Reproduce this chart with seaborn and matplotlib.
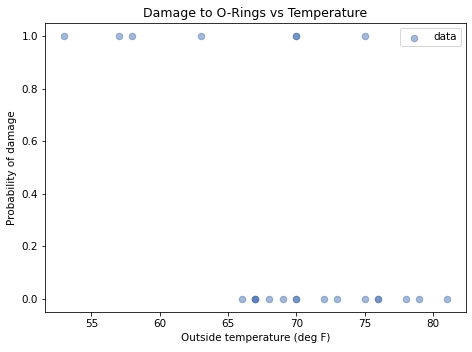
import numpy as np
import pandas as pd
import seaborn as sns
import matplotlib
matplotlib.use("Agg")
import matplotlib.pyplot as plt

# Challenger flights: outside temperature and O-ring damage (0/1)
temps = [66, 70, 69, 68, 67, 72, 73, 70, 57, 63, 70, 78,
         67, 53, 67, 75, 70, 81, 76, 79, 75, 76, 58]
damage = [0, 1, 0, 0, 0, 0, 0, 0, 1, 1, 1, 0,
          0, 1, 0, 0, 0, 0, 0, 0, 1, 0, 1]

df = pd.DataFrame({"temp": temps, "damage": damage})

plt.rcParams["font.size"] = 10.4

fig, ax = plt.subplots(figsize=(472 / 72, 352 / 72), dpi=72)
sns.scatterplot(data=df, x="temp", y="damage", ax=ax, color="#4C72B0",
                alpha=0.5, s=42, edgecolor="#4C72B0", linewidth=1, label="data")

ax.set_title("Damage to O-Rings vs Temperature")
ax.set_xlabel("Outside temperature (deg F)")
ax.set_ylabel("Probability of damage")
ax.legend(loc="upper right")

fig.subplots_adjust(left=0.095, right=0.987, top=0.935, bottom=0.113)
plt.savefig("out.png", dpi=72)
